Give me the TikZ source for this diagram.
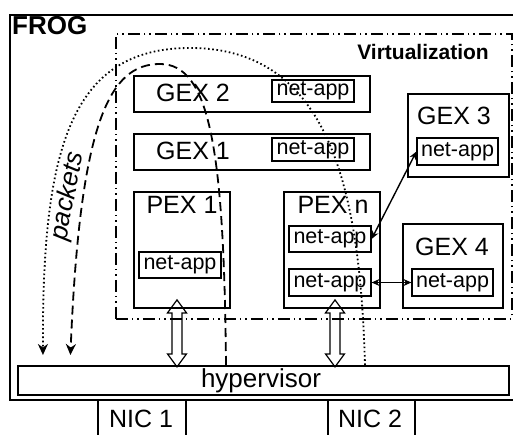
\documentclass[tikz,border=0pt]{standalone}
\usepackage{fontspec}
\setmainfont{Liberation Sans}
\usetikzlibrary{arrows.meta,positioning}

\begin{document}
\begin{tikzpicture}[
    x=1pt, y=-1pt,
    box/.style={draw, line width=1.9pt, inner sep=0pt, anchor=north west},
    app/.style={draw, line width=1.2pt, inner sep=0pt, minimum width=82pt, minimum height=25pt, font=\fontsize{21.5}{24}\selectfont},
    lbl/.style={inner sep=0pt, anchor=base, font=\fontsize{25}{28}\selectfont},
    dblarr/.pic={\draw[line width=1.2pt] (0,0) -- (-9.5,13) -- (-5,13) -- (-5,54) -- (-9.5,54) -- (0,67)
        -- (9.5,54) -- (5,54) -- (5,13) -- (9.5,13) -- cycle;},
    link/.style={{Stealth[length=8pt,width=7pt]}-{Stealth[length=8pt,width=7pt]}, line width=1.4pt},
    pkt/.style={-{Stealth[length=11pt,width=10pt,inset=3.5pt]}, line width=1.8pt, shorten >=10pt}
]
\clip (0,0) rectangle (513,435);

% outer host and virtualization area
\node[box, line width=2pt, minimum width=530pt, minimum height=385pt] (frog) at (9,14) {};
\node[inner sep=0pt, anchor=north west, font=\fontsize{26}{28}\selectfont\bfseries] (froglbl) at (12,16) {FROG};
\node[box, line width=1.7pt, dash pattern=on 12pt off 4pt on 1.5pt off 4pt on 1.5pt off 4pt, minimum width=396pt, minimum height=285pt] (virt) at (115,33) {};
\node[inner sep=0pt, anchor=base east, font=\fontsize{21}{24}\selectfont\bfseries] (virtlbl) at (489,60) {Virtualization};

% execution environments
\node[box, minimum width=236pt, minimum height=36pt] (gex2) at (133,75) {};
\node[lbl] at (193,102) {GEX 2};
\node[app, minimum height=22pt] (gex2app) at (313,91) {net-app};

\node[box, minimum width=236pt, minimum height=36pt] (gex1) at (133,133) {};
\node[lbl] at (193,160) {GEX 1};
\node[app, minimum height=23pt] (gex1app) at (313,149.5) {net-app};

\node[box, minimum width=96pt, minimum height=116pt] (pex1) at (133,191) {};
\node[lbl] at (182,214) {PEX 1};
\node[app, minimum height=26pt] (pex1app) at (180,265) {net-app};

\node[box, minimum width=96pt, minimum height=116pt] (pexn) at (283,191) {};
\node[lbl] at (333,214) {PEX n};
\node[app, minimum height=26pt] (pexnappa) at (330,239) {net-app};
\node[app, minimum height=27pt] (pexnappb) at (330,282.5) {net-app};

\node[box, minimum width=101pt, minimum height=83pt] (gex3) at (407,93) {};
\node[lbl] at (454,125) {GEX 3};
\node[app, minimum width=81pt, minimum height=27pt] (gex3app) at (457.5,151.5) {net-app};

\node[box, minimum width=100pt, minimum height=84pt] (gex4) at (402,223) {};
\node[lbl] at (452,255) {GEX 4};
\node[app, minimum width=81pt, minimum height=27pt] (gex4app) at (452.5,282.5) {net-app};

% hypervisor and nics
\node[box, minimum width=491pt, minimum height=29pt] (hyper) at (17,365) {};
\node[lbl, font=\fontsize{26}{28}\selectfont] at (261,387) {hypervisor};
\node[box, minimum width=88pt, minimum height=50pt] (nic1) at (97,399) {};
\node[lbl] at (141,427) {NIC 1};
\node[box, minimum width=87pt, minimum height=50pt] (nic2) at (327,399) {};
\node[lbl] at (370,427) {NIC 2};

% links
\draw[link] (pexnappa.east) -- (gex3app.west);
\draw[link] (pexnappb.east) -- (gex4app.west);
\pic at (pex1.south -| 177,0) [yshift=9pt] {dblarr};
\pic at (pexn.south -| 335,0) [yshift=9pt] {dblarr};

% packet paths
\draw[pkt, dash pattern=on 9pt off 5pt] (hyper.north -| 226,0) .. controls (224,150) and (210,64) .. (160,64)
    .. controls (110,64) and (80,120) .. (hyper.north -| 70,0);
\draw[pkt, dash pattern=on 1.6pt off 2.6pt] (hyper.north -| 365,0) .. controls (360,190) and (330,48) .. (190,48)
    .. controls (70,48) and (42,150) .. (hyper.north -| 43,0);
\node[inner sep=0pt, rotate=79, font=\fontsize{26}{28}\selectfont\itshape] (pktlbl) at (68,196) {packets};
\end{tikzpicture}
\end{document}
